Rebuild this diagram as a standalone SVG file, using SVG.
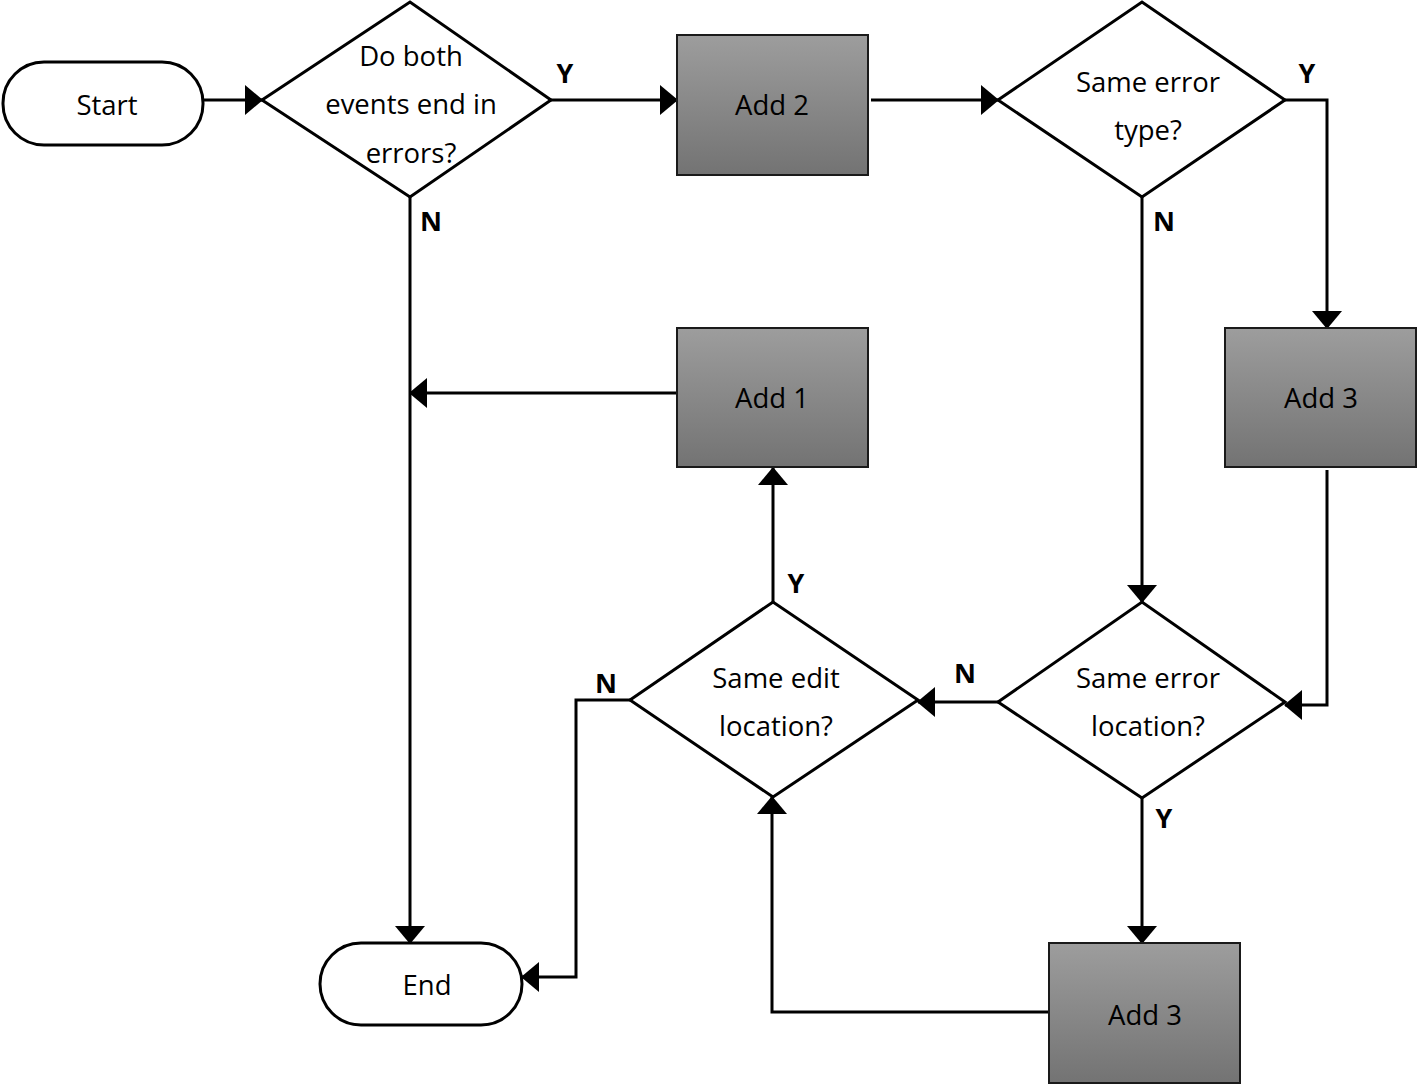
<svg xmlns="http://www.w3.org/2000/svg" width="1418" height="1085" viewBox="0 0 1418 1085">
<defs>
<linearGradient id="g" x1="0" y1="0" x2="0" y2="1">
<stop offset="0" stop-color="#9d9d9d"/>
<stop offset="1" stop-color="#737373"/>
</linearGradient>
<marker id="ah" markerUnits="userSpaceOnUse" markerWidth="18" markerHeight="30" refX="17" refY="15" orient="auto" viewBox="0 0 18 30">
<path d="M0,0 L18,15 L0,30 Z" fill="#000"/>
</marker>
<style>
.t{font-family:"Open Sans","Liberation Sans",sans-serif;font-size:27.5px;fill:#000;text-anchor:middle}
.l{font-family:"Open Sans","Liberation Sans",sans-serif;font-size:27px;font-weight:bold;fill:#000;text-anchor:middle}
.term{fill:#fff;stroke:#000;stroke-width:3}
.dia{fill:#fff;stroke:#000;stroke-width:3;stroke-linejoin:miter}
.box{fill:url(#g);stroke:#1a1a1a;stroke-width:2}
.c{fill:none;stroke:#000;stroke-width:3}
.a{marker-end:url(#ah)}
</style>
</defs>
<g id="connectors">
<path class="c a" d="M203,100 H262"/>
<path class="c a" d="M551,100 H677"/>
<path class="c a" d="M871,100 H998"/>
<path class="c a" d="M1285,100 H1327 V328"/>
<path class="c a" d="M410,197 V943"/>
<path class="c a" d="M677,393 H410"/>
<path class="c a" d="M1142,197 V602"/>
<path class="c a" d="M1327,470 V705 H1285"/>
<path class="c a" d="M998,702 H918"/>
<path class="c a" d="M1142,798 V943"/>
<path class="c a" d="M1049,1012 H772 V797"/>
<path class="c a" d="M773,602 V468"/>
<path class="c a" d="M630,700 H576 V977 H522"/>
</g>
<g id="labels">
<text class="l" x="565" y="83">Y</text>
<text class="l" x="431" y="231">N</text>
<text class="l" x="1307" y="83">Y</text>
<text class="l" x="1164" y="231">N</text>
<text class="l" x="965" y="683">N</text>
<text class="l" x="1164" y="828">Y</text>
<text class="l" x="796" y="593">Y</text>
<text class="l" x="606" y="693">N</text>
</g>
<g id="start">
<rect class="term" x="3" y="62" width="200" height="83" rx="41" ry="41"/>
<text class="t" x="107" y="115">Start</text>
</g>
<g id="q1">
<polygon class="dia" points="262,100 410,2 551,100 410,197"/>
<text class="t" x="411" y="66">Do both</text>
<text class="t" x="411" y="114">events end in</text>
<text class="t" x="411" y="163">errors?</text>
</g>
<g id="add2">
<rect class="box" x="677" y="35" width="191" height="140"/>
<text class="t" x="772" y="115">Add 2</text>
</g>
<g id="q2">
<polygon class="dia" points="998,100 1142,2 1285,100 1142,197"/>
<text class="t" x="1148" y="92">Same error</text>
<text class="t" x="1148" y="140">type?</text>
</g>
<g id="add3a">
<rect class="box" x="1225" y="328" width="191" height="139"/>
<text class="t" x="1321" y="408">Add 3</text>
</g>
<g id="add1">
<rect class="box" x="677" y="328" width="191" height="139"/>
<text class="t" x="772" y="408">Add 1</text>
</g>
<g id="q3">
<polygon class="dia" points="998,702 1142,602 1285,702 1142,798"/>
<text class="t" x="1148" y="688">Same error</text>
<text class="t" x="1148" y="736">location?</text>
</g>
<g id="q4">
<polygon class="dia" points="630,700 773,602 918,700 773,797"/>
<text class="t" x="776" y="688">Same edit</text>
<text class="t" x="776" y="736">location?</text>
</g>
<g id="add3b">
<rect class="box" x="1049" y="943" width="191" height="140"/>
<text class="t" x="1145" y="1025">Add 3</text>
</g>
<g id="end">
<rect class="term" x="320" y="943" width="202" height="82" rx="41" ry="41"/>
<text class="t" x="427" y="995">End</text>
</g>
</svg>
